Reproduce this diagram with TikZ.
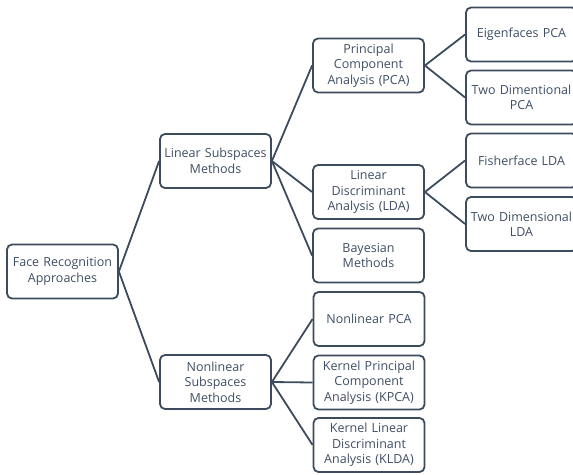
\documentclass[tikz,border=0pt]{standalone}
\usepackage{fontspec}
\setmainfont{Open Sans}
\usepackage{xcolor}
\definecolor{boxline}{HTML}{3D4B5E}
\definecolor{boxtext}{HTML}{3F4E63}

\tikzset{
  box/.style={draw=boxline, line width=1.8pt, rounded corners=5pt,
    text=boxtext, align=center, text width=107pt, inner xsep=2pt,
    inner ysep=0pt, minimum height=54pt,
    font=\fontsize{12.5}{15.5}\selectfont},
  link/.style={draw=boxline, line width=1.8pt}
}

\begin{document}
\begin{tikzpicture}[x=1pt,y=-1pt]
\clip (0,0) rectangle (573,474);

% 1st tier:
\node[box] (face) at (62.5,271.5) {Face Recognition\\Approaches};

% 2nd tier:
\node[box] (lin) at (215.5,161) {Linear Subspaces\\Methods};
\node[box] (nonlin) at (215.5,382) {Nonlinear\\Subspaces\\Methods};

\draw[link] (face.east) -- (lin.west);
\draw[link] (face.east) -- (nonlin.west);

% 3rd tier:
\node[box] (pca) at (368.5,65.5) {Principal\\Component\\Analysis (PCA)};
\node[box] (lda) at (368.5,192) {Linear\\Discriminant\\Analysis (LDA)};
\node[box] (bayes) at (368.5,255.5) {Bayesian\\Methods};

\node[box] (nlpca) at (369,319) {Nonlinear PCA};
\node[box] (kpca) at (369,382.5) {Kernel Principal\\Component\\Analysis (KPCA)};
\node[box] (klda) at (369,445) {Kernel Linear\\Discriminant\\Analysis (KLDA)};

\draw[link] (lin.east) -- (pca.west);
\draw[link] (lin.east) -- (lda.west);
\draw[link] (lin.east) -- (bayes.west);

\draw[link] (nonlin.east) -- (nlpca.west);
\draw[link] (nonlin.east) -- (kpca.west);
\draw[link] (nonlin.east) -- (klda.west);

% top tier:
\node[box] (eigen) at (521.5,34.5) {Eigenfaces PCA};
\node[box] (twopca) at (521.5,97.5) {Two Dimentional\\PCA};
\node[box] (fisher) at (521.5,160.5) {Fisherface LDA};
\node[box] (twolda) at (521.5,224) {Two Dimensional\\LDA};

\draw[link] (pca.east) -- (eigen.west);
\draw[link] (pca.east) -- (twopca.west);
\draw[link] (lda.east) -- (fisher.west);
\draw[link] (lda.east) -- (twolda.west);

\end{tikzpicture}
\end{document}
